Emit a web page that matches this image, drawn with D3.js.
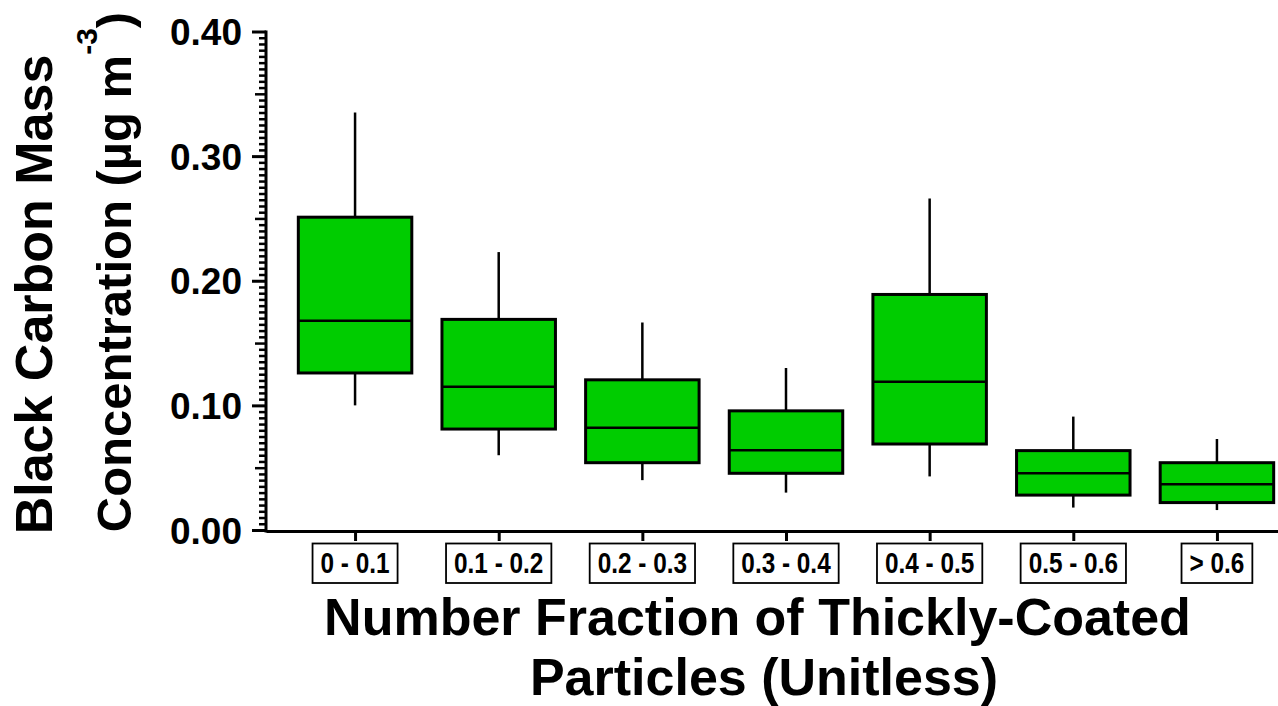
<!DOCTYPE html>
<html>
<head>
<meta charset="utf-8">
<script src="https://cdn.jsdelivr.net/npm/d3@7/dist/d3.min.js"></script>
<style>
  html, body { margin: 0; padding: 0; background: #fff; }
  svg { display: block; }
  text { font-family: "Liberation Sans", Arial, Helvetica, sans-serif; font-weight: bold; fill: #000; }
</style>
</head>
<body>
<svg id="chart" width="1278" height="706"></svg>
<script>
// ---- data ----
const categories = ["0 - 0.1", "0.1 - 0.2", "0.2 - 0.3", "0.3 - 0.4", "0.4 - 0.5", "0.5 - 0.6", "> 0.6"];
const whiskerLow  = [0.100, 0.060, 0.040, 0.030, 0.043, 0.018, 0.016];
const q1          = [0.126, 0.081, 0.054, 0.0455, 0.069, 0.028, 0.022];
const median      = [0.168, 0.115, 0.082, 0.064, 0.119, 0.0455, 0.0367];
const q3          = [0.251, 0.169, 0.1205, 0.0956, 0.189, 0.0637, 0.054];
const whiskerHigh = [0.335, 0.223, 0.1665, 0.130, 0.266, 0.091, 0.073];
const yTickValues = [0, 0.1, 0.2, 0.3, 0.4];
const yTitleLine1 = "Black Carbon Mass";
const yTitleLine2 = "Concentration (µg m";
const yTitleSup = "-3";
const yTitleEnd = ")";
const xTitleLine1 = "Number Fraction of Thickly-Coated";
const xTitleLine2 = "Particles (Unitless)";

const boxes = categories.map((c, i) => ({
  cat: c, lo: whiskerLow[i], q1: q1[i], med: median[i], q3: q3[i], hi: whiskerHigh[i]
}));

// ---- layout ----
const svg = d3.select("#chart");
const plotLeft = 266, plotRight = 1306, plotTop = 31.5, plotBottom = 530;

const x = d3.scalePoint().domain(categories).range([plotLeft, plotRight]).padding(0.62);
const y = d3.scaleLinear().domain([0, 0.4]).range([plotBottom, plotTop]);
const boxW = x.step() * 0.79;

// ---- boxes ----
const g = svg.append("g");
const bx = g.selectAll("g.box").data(boxes).join("g").attr("class", "box");

bx.append("line")
  .attr("x1", d => x(d.cat)).attr("x2", d => x(d.cat))
  .attr("y1", d => y(d.q3)).attr("y2", d => y(d.hi))
  .attr("stroke", "#000").attr("stroke-width", 2.5);
bx.append("line")
  .attr("x1", d => x(d.cat)).attr("x2", d => x(d.cat))
  .attr("y1", d => y(d.q1)).attr("y2", d => y(d.lo))
  .attr("stroke", "#000").attr("stroke-width", 2.5);
bx.append("rect")
  .attr("x", d => x(d.cat) - boxW / 2).attr("width", boxW)
  .attr("y", d => y(d.q3)).attr("height", d => y(d.q1) - y(d.q3))
  .attr("fill", "#00cc00").attr("stroke", "#000").attr("stroke-width", 3);
bx.append("line")
  .attr("x1", d => x(d.cat) - boxW / 2).attr("x2", d => x(d.cat) + boxW / 2)
  .attr("y1", d => y(d.med)).attr("y2", d => y(d.med))
  .attr("stroke", "#000").attr("stroke-width", 2.5);

// ---- y axis ----
const minorVals = d3.range(0, 81).map(i => i * 0.005).filter(v => Math.abs(v * 20 - Math.round(v * 20)) > 1e-6);
const midVals = [0.05, 0.15, 0.25, 0.35];

const yMinor = svg.append("g").attr("transform", `translate(${plotLeft},0)`)
  .call(d3.axisLeft(y).tickValues(minorVals).tickSize(7).tickFormat(""));
yMinor.select(".domain").remove();
yMinor.selectAll(".tick line").attr("stroke-width", 2.5);

const yMid = svg.append("g").attr("transform", `translate(${plotLeft},0)`)
  .call(d3.axisLeft(y).tickValues(midVals).tickSize(11).tickFormat(""));
yMid.select(".domain").remove();
yMid.selectAll(".tick line").attr("stroke-width", 2.5);

const yAxis = svg.append("g").attr("transform", `translate(${plotLeft},0)`)
  .call(d3.axisLeft(y).tickValues(yTickValues).tickSize(14).tickSizeOuter(0).tickPadding(10).tickFormat(d3.format(".2f")));
yAxis.select(".domain").attr("stroke-width", 3).attr("d", `M0,${plotTop - 1}V${plotBottom + 2.5}`);
yAxis.selectAll(".tick line").attr("stroke-width", 3);
yAxis.selectAll(".tick text")
  .attr("font-size", 37).attr("font-family", null).attr("dy", 13);

// ---- x axis ----
const xAxis = svg.append("g").attr("transform", `translate(0,${plotBottom + 1})`)
  .call(d3.axisBottom(x).tickSize(10).tickSizeOuter(0).tickFormat(""));
xAxis.select(".domain").attr("stroke-width", 3);
xAxis.selectAll(".tick line").attr("stroke-width", 3);

// boxed category labels
const lab = svg.append("g").selectAll("g").data(categories).join("g")
  .attr("transform", d => `translate(${x(d)},0)`);
const labRect = lab.append("rect");
const labText = lab.append("text")
  .attr("text-anchor", "middle").attr("font-size", 29)
  .attr("y", 573).attr("transform", "scale(0.84,1)")
  .text(d => d);
labText.each(function (d, i) {
  const w = this.getComputedTextLength() * 0.84;
  d3.select(labRect.nodes()[i])
    .attr("x", -w / 2 - 8).attr("width", w + 16)
    .attr("y", 543.5).attr("height", 39.5)
    .attr("fill", "#fff").attr("stroke", "#000").attr("stroke-width", 1.8);
});

// ---- titles ----
svg.append("text").attr("text-anchor", "middle").attr("font-size", 52)
  .attr("x", 757.5).attr("y", 635).text(xTitleLine1);
svg.append("text").attr("text-anchor", "middle").attr("font-size", 52)
  .attr("x", 764).attr("y", 695).text(xTitleLine2);

svg.append("text").attr("text-anchor", "middle").attr("font-size", 52)
  .attr("transform", "translate(52,294.5) rotate(-90)").text(yTitleLine1);
const t2 = svg.append("text").attr("text-anchor", "middle").attr("font-size", 49)
  .attr("transform", "translate(131,272) rotate(-90)");
t2.append("tspan").text(yTitleLine2);
t2.append("tspan").attr("font-size", 30).attr("dy", -34).text(yTitleSup);
t2.append("tspan").attr("dy", 34).text(yTitleEnd);
</script>
</body>
</html>
